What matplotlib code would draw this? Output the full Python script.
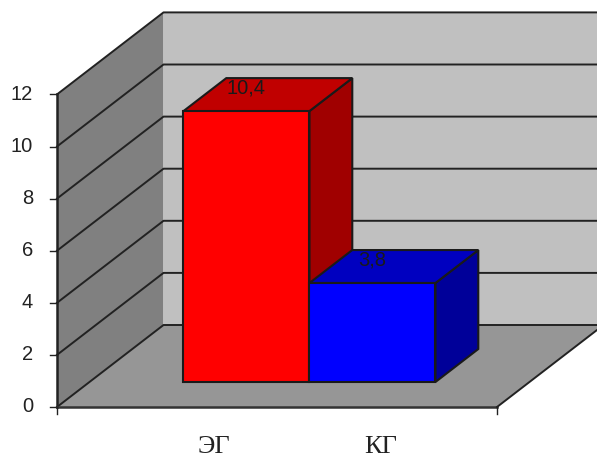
import numpy as np
import matplotlib
matplotlib.use('Agg')
import matplotlib.pyplot as plt
from matplotlib.patches import Polygon

# Chart data
categories = ['ЭГ', 'КГ']
values = [10.4, 3.8]
value_labels = ['10,4', '3,8']
y_ticks = [0, 2, 4, 6, 8, 10, 12]

# Oblique projection of the Excel style 3D box (pixels of the final image)
X0, Y0 = 57.0, 407.0
PX_X = 220.0      # one category wide
PX_Y = 26.05      # one value unit high
DEPTH_X, DEPTH_Y = 106.5, -82.0


def proj(x, v, d):
    return (X0 + x*PX_X + d*DEPTH_X, Y0 - v*PX_Y + d*DEPTH_Y)


def face(ax, pts, color, ec='#1a1a1a', lw=1.5, z=1):
    ax.add_patch(Polygon([proj(*p) for p in pts], closed=True, facecolor=color,
                         edgecolor=ec, linewidth=lw, zorder=z, joinstyle='miter'))


fig = plt.figure(figsize=(5.97, 4.58), dpi=100)
ax = fig.add_axes([0, 0, 1, 1])
ax.set_xlim(0, 597)
ax.set_ylim(458, 0)
ax.axis('off')

vmax = y_ticks[-1]

# walls and floor
face(ax, [(0, 0, 1), (2, 0, 1), (2, vmax, 1), (0, vmax, 1)], '#c0c0c0', ec='none', lw=0)
face(ax, [(0, 0, 0), (0, 0, 1), (0, vmax, 1), (0, vmax, 0)], '#808080', ec='none', lw=0)
face(ax, [(0, 0, 0), (2, 0, 0), (2, 0, 1), (0, 0, 1)], '#969696', ec='none', lw=0)

# gridlines
line_col = '#222222'
for v in y_ticks:
    pts = [proj(0, v, 0), proj(0, v, 1), proj(2, v, 1)]
    ax.plot([p[0] for p in pts], [p[1] for p in pts], color=line_col, lw=1.4, zorder=2)

# axes
a, b = proj(0, 0, 0), proj(0, vmax, 0)
ax.plot([a[0], b[0]], [a[1], b[1]], color=line_col, lw=1.8, zorder=3)
a, b, c = proj(0, 0, 0), proj(2, 0, 0), proj(2, 0, 1)
ax.plot([a[0], b[0]], [a[1], b[1]], color='#333333', lw=1.8, zorder=3)
ax.plot([b[0], c[0]], [b[1], c[1]], color=line_col, lw=1.4, zorder=3)

# ticks and tick labels
for v in y_ticks:
    x, y = proj(0, v, 0)
    ax.plot([x-7, x], [y, y], color=line_col, lw=1.0, zorder=3)
    ax.text(33, y, str(v), ha='right', va='center', fontsize=14.5,
            family='Liberation Sans', color='#222222')
for i in [0, 2]:
    x, y = proj(i, 0, 0)
    ax.plot([x, x], [y, y+7], color=line_col, lw=1.0, zorder=3)

# bars
bar_w = 0.5727
x_start = 1 - bar_w
d0, d1 = 0.305, 0.707
bar_cols = [('#ff0000', '#c00000', '#a00000'), ('#0000ff', '#0000c0', '#000099')]
for i, val in enumerate(values):
    x0 = x_start + i*bar_w
    x1 = x0 + bar_w
    front, top, side = bar_cols[i]
    z = 5 + i
    face(ax, [(x1, 0, d0), (x1, 0, d1), (x1, val, d1), (x1, val, d0)], side, z=z)
    face(ax, [(x0, val, d0), (x1, val, d0), (x1, val, d1), (x0, val, d1)], top, z=z)
    face(ax, [(x0, 0, d0), (x1, 0, d0), (x1, val, d0), (x0, val, d0)], front, z=z)
    lx, ly = proj((x0+x1)/2, val, d1)
    ax.text(lx-43, ly+10, value_labels[i], ha='center', va='center', fontsize=14.5,
            family='Liberation Sans', color='#1a1a1a', zorder=8)

# category labels
for i, cat in enumerate(categories):
    x = [214, 381][i]
    ax.text(x, 447, cat, ha='center', va='center', fontsize=19,
            family='Liberation Serif', color='#222222')

fig.savefig('out.png', dpi=100)
